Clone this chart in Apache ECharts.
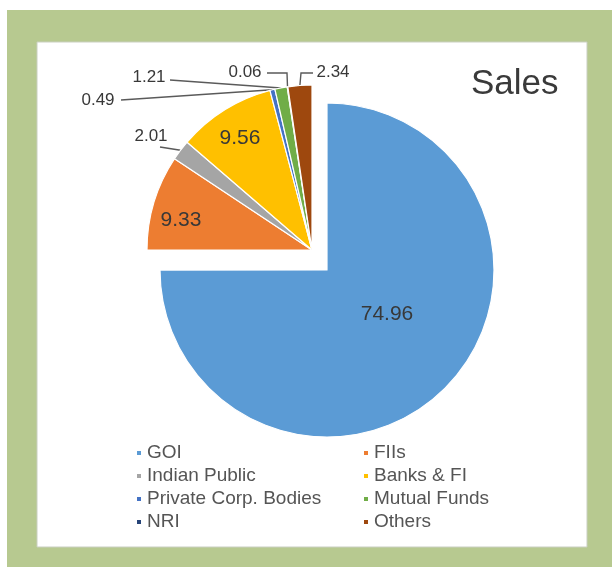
<!DOCTYPE html>
<html>
<head>
<meta charset="utf-8">
<script src="https://cdn.jsdelivr.net/npm/echarts@6/dist/echarts.min.js"></script>
<style>
  html, body { margin: 0; padding: 0; background: #ffffff; }
  #chart { width: 612px; height: 567px; }
</style>
</head>
<body>
<div id="chart"></div>
<script>
// Shareholding categories and their share of sales (%)
const categories = ['GOI', 'FIIs', 'Indian Public', 'Banks & FI', 'Private Corp. Bodies', 'Mutual Funds', 'NRI', 'Others'];
const sales = [74.96, 9.33, 2.01, 9.56, 0.49, 1.21, 0.06, 2.34];
const sliceColors = ['#5b9bd5', '#ed7d31', '#a5a5a5', '#ffc000', '#4472c4', '#70ad47', '#264478', '#9e480e'];
const legendLeft = ['GOI', 'Indian Public', 'Private Corp. Bodies', 'NRI'];
const legendRight = ['FIIs', 'Banks & FI', 'Mutual Funds', 'Others'];

// Where each value label sits; "via" lists the leader-line points after the slice anchor
const labelSpots = {
  'GOI':                  { x: 387, y: 314, size: 21 },
  'FIIs':                 { x: 181, y: 220, size: 21 },
  'Banks & FI':           { x: 240, y: 138, size: 21 },
  'Indian Public':        { x: 151, y: 136, size: 17, via: [[160, 147]] },
  'Private Corp. Bodies': { x: 98,  y: 100, size: 17, via: [[121, 100]] },
  'Mutual Funds':         { x: 149, y: 77,  size: 17, via: [[170, 80]] },
  'NRI':                  { x: 245, y: 72,  size: 17, via: [[287, 73], [267, 73]] },
  'Others':               { x: 333, y: 72,  size: 17, via: [[301, 73], [313, 73]] }
};

const FONT = '"Liberation Sans", Arial, Helvetica, sans-serif';
const GOI_RADIUS = 167;
const REST_RADIUS = 165;
const GOI_CENTER = [327, 270];
const REST_CENTER = [312, 250];

const hidden = {
  itemStyle: { color: 'rgba(0,0,0,0)', borderWidth: 0 },
  label: { show: false },
  labelLine: { show: false },
  emphasis: { disabled: true }
};

function sliceItem(i) {
  const name = categories[i];
  const spot = labelSpots[name];
  const outside = !!spot.via;
  return {
    name: name,
    value: sales[i],
    itemStyle: { color: sliceColors[i] },
    label: {
      show: true,
      position: outside ? 'outside' : 'inside',
      fontSize: spot.size
    },
    labelLine: { show: outside }
  };
}

// GOI drawn on its own; the remaining slices form a second, pulled-out pie
const goiIndex = 0;
const restTotal = sales.slice(1).reduce((a, b) => a + b, 0);
const goiData = [sliceItem(goiIndex), Object.assign({ name: '', value: restTotal }, hidden)];
const restNames = [''].concat(categories.slice(1));
const restData = [Object.assign({ name: '', value: sales[goiIndex] }, hidden)]
  .concat(categories.slice(1).map((_, k) => sliceItem(k + 1)));

function layoutFor(names) {
  return function (params) {
    const spot = labelSpots[names[params.dataIndex]];
    if (!spot) return {};
    const out = { x: spot.x, y: spot.y, align: 'center', verticalAlign: 'middle' };
    if (spot.via && params.labelLinePoints) {
      const anchor = params.labelLinePoints[0];
      out.labelLinePoints = [anchor].concat(spot.via);
    }
    return out;
  };
}

const baseSeries = {
  type: 'pie',
  startAngle: 90,
  clockwise: true,
  avoidLabelOverlap: false,
  animation: false,
  silent: true,
  itemStyle: { borderColor: '#ffffff', borderWidth: 1.2 },
  label: { color: '#383838', fontFamily: FONT, formatter: '{c}' },
  labelLine: { lineStyle: { color: '#5a5a5a', width: 1.4 } }
};

const chart = echarts.init(document.getElementById('chart'), null, { renderer: 'canvas' });
chart.setOption({
  animation: false,
  color: sliceColors,
  graphic: [
    { type: 'rect', z: -2, shape: { x: 7, y: 10, width: 605, height: 557 },
      style: { fill: '#b7c990' } },
    { type: 'rect', z: -1, shape: { x: 37, y: 42, width: 550, height: 505 },
      style: { fill: '#ffffff', stroke: '#c9cfc0', lineWidth: 1 } }
  ],
  title: {
    text: 'Sales',
    left: 466,
    top: 62,
    textStyle: { fontFamily: FONT, fontSize: 35, fontWeight: 'normal', color: '#3a3a3a' }
  },
  legend: [
    {
      data: legendLeft, orient: 'vertical', left: 130, top: 438,
      icon: 'rect', itemWidth: 6, itemHeight: 6, itemGap: 3,
      selectedMode: false,
      textStyle: { fontFamily: FONT, fontSize: 19, lineHeight: 20, color: '#555555' }
    },
    {
      data: legendRight, orient: 'vertical', left: 357, top: 438,
      icon: 'rect', itemWidth: 6, itemHeight: 6, itemGap: 3,
      selectedMode: false,
      textStyle: { fontFamily: FONT, fontSize: 19, lineHeight: 20, color: '#555555' }
    }
  ],
  series: [
    Object.assign({}, baseSeries, {
      name: 'GOI share', center: GOI_CENTER, radius: [0, GOI_RADIUS], data: goiData,
      labelLayout: layoutFor(['GOI', ''])
    }),
    Object.assign({}, baseSeries, {
      name: 'Other holders', center: REST_CENTER, radius: [0, REST_RADIUS], data: restData,
      labelLayout: layoutFor(restNames)
    })
  ]
});
</script>
</body>
</html>
